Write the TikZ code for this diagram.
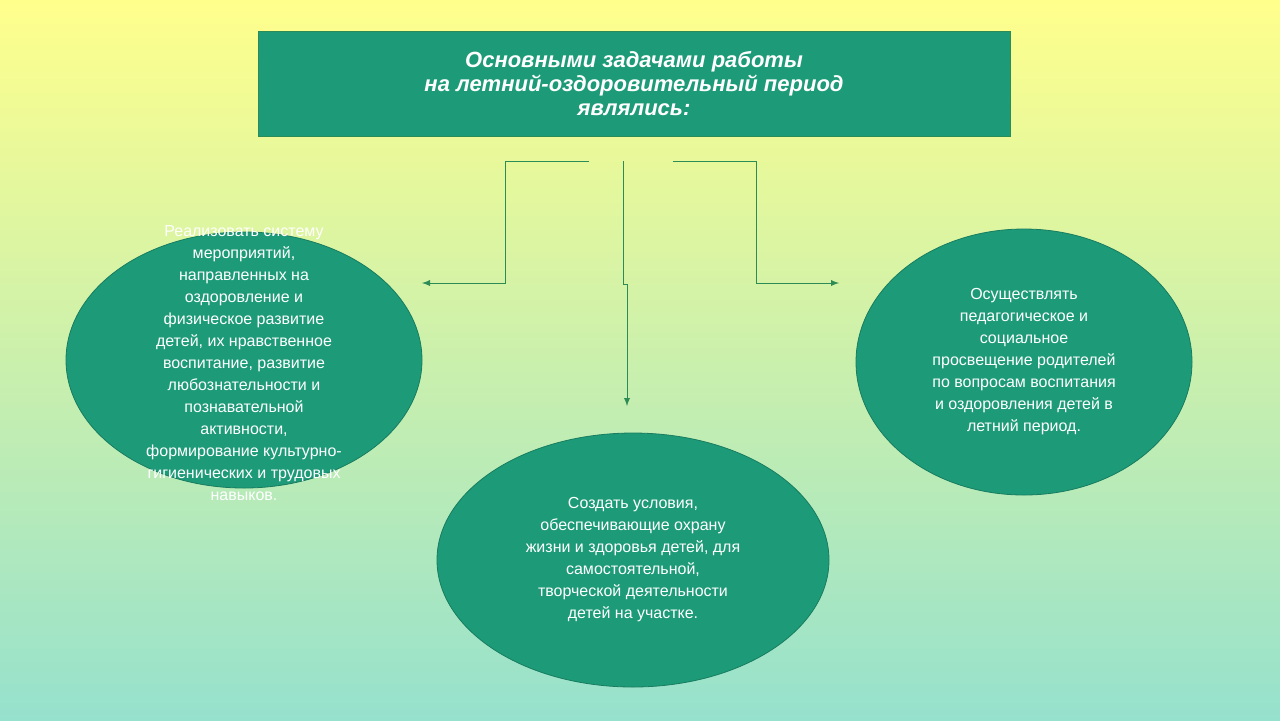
\documentclass[tikz,border=0pt]{standalone}
\usepackage{fontspec}
\setmainfont{Liberation Sans}
\usetikzlibrary{shapes.geometric, arrows, calc}
\definecolor{teal1}{RGB}{29,155,120}
\definecolor{wire}{RGB}{45,140,85}
\tikzstyle{head} = [rectangle, draw=wire, fill=teal1, text=white, font=\fontsize{11}{12}\selectfont\bfseries\itshape, align=center, minimum width=376pt, minimum height=52.5pt]
\tikzstyle{oval} = [ellipse, fill=teal1, draw=teal1!80!black, text=white, font=\fontsize{8}{11}\selectfont, align=center]
\tikzstyle{arrow} = [draw=wire, thin, -latex]

\begin{document}
\begin{tikzpicture}[x=0.5pt, y=-0.5pt]
        \shade[top color={rgb,255:red,255;green,255;blue,140}, bottom color={rgb,255:red,150;green,225;blue,205}] (0,0) rectangle (1280,720);
        \useasboundingbox (0,0) rectangle (1280,720);
        \node (title) [head] at (634,83.5) {Основными задачами работы\\ на летний-оздоровительный период\\ являлись:};

        \node (left) [oval, minimum width=178pt, minimum height=128pt] at (244,360) {};
        \node (lefttext) [text=white, font=\fontsize{8}{11}\selectfont, align=center] at (244,363) {Реализовать систему\\ мероприятий,\\ направленных на\\ оздоровление и\\ физическое развитие\\ детей, их нравственное\\ воспитание, развитие\\ любознательности и\\ познавательной\\ активности,\\ формирование культурно-\\ гигиенических и трудовых\\ навыков.};
        \node (bottom) [oval, minimum width=196pt, minimum height=127pt] at (633,560) {Создать условия,\\ обеспечивающие охрану\\ жизни и здоровья детей, для\\ самостоятельной,\\ творческой деятельности\\ детей на участке.};
        \node (right) [oval, minimum width=168pt, minimum height=133pt] at (1024,362) {Осуществлять\\ педагогическое и\\ социальное\\ просвещение родителей\\ по вопросам воспитания\\ и оздоровления детей в\\ летний период.};

        \coordinate (L0) at (589,161);
        \coordinate (L1) at (422,283);
        \coordinate (M0) at (623,161);
        \coordinate (M1) at (627,406);
        \coordinate (R0) at (673,161);
        \coordinate (R1) at (839,283);

        \draw [arrow] (L0) -- (505,161) -- (505,283) -- (L1);
        \draw [arrow] (M0) -- (623,284) -- (627,284) -- (M1);
        \draw [arrow] (R0) -- (756,161) -- (756,283) -- (R1);
    \end{tikzpicture}
\end{document}
